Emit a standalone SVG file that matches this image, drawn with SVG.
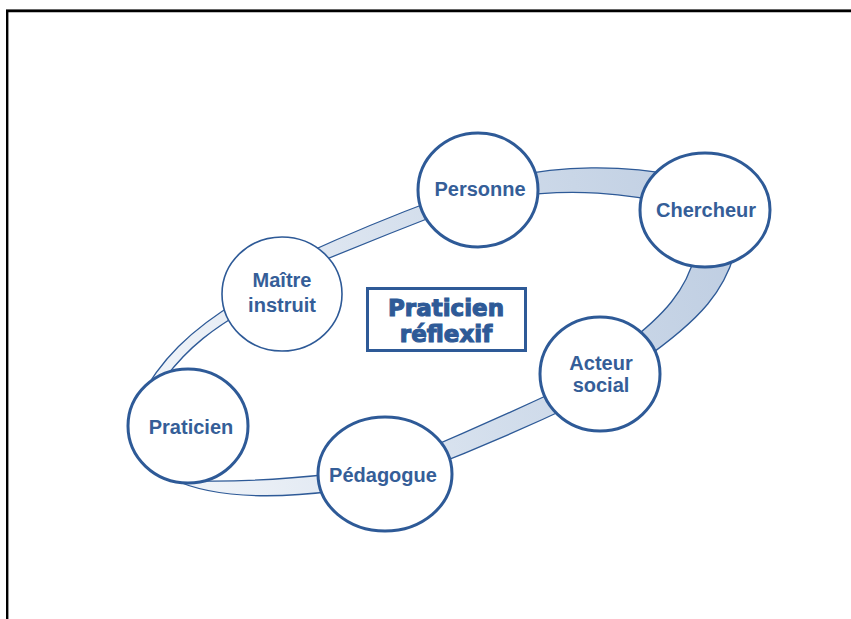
<svg xmlns="http://www.w3.org/2000/svg" width="851" height="619" viewBox="0 0 851 619">
<style>
.node{fill:#ffffff;stroke:#2e5a97;stroke-width:3}
.thin{stroke-width:1.6}
.lbl{font-family:"Liberation Sans",Arial,sans-serif;font-weight:bold;font-size:20px;fill:#355e98;text-anchor:middle}
.band{fill:url(#ringGrad);stroke:#2e5a97;stroke-width:1.3;stroke-linejoin:round}
.title{font-family:"DejaVu Sans",sans-serif;font-weight:bold;font-size:23px;fill:#2e5a97;stroke:#2e5a97;stroke-width:1.1;text-anchor:middle}
</style>
<defs>
<linearGradient id="ringGrad" gradientUnits="userSpaceOnUse" x1="740" y1="250" x2="130" y2="420">
<stop offset="0" stop-color="#bfcee2"/>
<stop offset="0.45" stop-color="#d3deec"/>
<stop offset="1" stop-color="#f3f6fa"/>
</linearGradient>
</defs>
<rect x="0" y="0" width="851" height="619" fill="#ffffff"/>
<g id="frame">
<line x1="6" y1="9.5" x2="851" y2="9.5" stroke="#8a8a8a" stroke-width="1"/>
<line x1="6" y1="11" x2="851" y2="11" stroke="#000000" stroke-width="2.5"/>
<line x1="7.2" y1="10" x2="7.2" y2="619" stroke="#000000" stroke-width="2.4"/>
</g>
<g id="connectors">
<path class="band" d="M 300,256 Q 370,224 440,198 L 442,213 Q 375,239 305,268 Z"/>
<path class="band" d="M 510,177 C 560,166 620,164 680,176 L 672,205 C 630,193 570,188 510,197 Z"/>
<path class="band" d="M 738,240 C 728,290 700,320 640,362 L 625,345 C 660,318 690,290 697,245 Z"/>
<path class="band" d="M 578,403 Q 500,440 420,471 L 415,454 Q 490,422 565,387 Z"/>
<path class="band" d="M 335,491 C 280,498 215,500 170,478 L 200,481 Q 260,482 332,474 Z"/>
<path class="band" d="M 138,402 C 160,360 190,330 240,300 L 245,310 C 215,328 190,345 165,378 Z"/>
</g>
<g id="node-personne">
<ellipse class="node" cx="478" cy="190" rx="60" ry="57"/>
<text class="lbl" x="480" y="196">Personne</text>
</g>
<g id="node-chercheur">
<ellipse class="node" cx="705" cy="210" rx="65" ry="57"/>
<text class="lbl" x="706" y="217">Chercheur</text>
</g>
<g id="node-acteur-social">
<ellipse class="node" cx="600" cy="374" rx="60" ry="57"/>
<text class="lbl" x="601" y="370">Acteur</text>
<text class="lbl" x="601" y="392">social</text>
</g>
<g id="node-pedagogue">
<ellipse class="node" cx="385" cy="474" rx="67" ry="57"/>
<text class="lbl" x="383" y="482">Pédagogue</text>
</g>
<g id="node-praticien">
<ellipse class="node" cx="188" cy="426" rx="60" ry="57"/>
<text class="lbl" x="191" y="434">Praticien</text>
</g>
<g id="node-maitre-instruit">
<ellipse class="node thin" cx="282" cy="294" rx="60" ry="57"/>
<text class="lbl" x="282" y="287">Maître</text>
<text class="lbl" x="282" y="312">instruit</text>
</g>
<g id="node-praticien-reflexif">
<rect x="367.5" y="288.5" width="158" height="62" fill="#ffffff" stroke="#2e5a97" stroke-width="3"/>
<text class="title" x="446" y="316">Praticien</text>
<text class="title" x="446" y="342">réflexif</text>
</g>
</svg>
